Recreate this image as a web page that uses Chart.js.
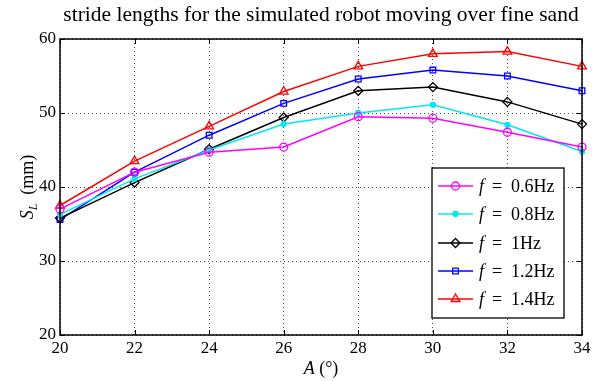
<!DOCTYPE html>
<html>
<head>
<meta charset="utf-8">
<script src="https://cdn.jsdelivr.net/npm/chart.js@4.4.1/dist/chart.umd.min.js"></script>
<style>
  html, body { margin: 0; padding: 0; background: #fff; }
  #wrap { width: 605px; height: 381px; }
</style>
</head>
<body>
<div id="wrap"><canvas id="c" width="605" height="381"></canvas></div>
<script>
// Amplitude A in degrees
const amplitudes = [20, 22, 24, 26, 28, 30, 32, 34];
// Stride length S_L (mm) for each gait frequency
const freqLabels = ['0.6', '0.8', '1', '1.2', '1.4'];
const sl06 = [37.0, 42.0, 44.7, 45.4, 49.5, 49.3, 47.4, 45.4];
const sl08 = [36.3, 41.1, 45.0, 48.5, 50.0, 51.1, 48.4, 44.8];
const sl10 = [35.8, 40.6, 45.1, 49.4, 53.0, 53.5, 51.5, 48.5];
const sl12 = [35.6, 42.0, 47.0, 51.3, 54.6, 55.8, 55.0, 53.0];
const sl14 = [37.5, 43.5, 48.2, 52.9, 56.3, 58.0, 58.3, 56.3];
const yTicks = [20, 30, 40, 50, 60];
const xTicks = [20, 22, 24, 26, 28, 30, 32, 34];
const titleText = 'stride lengths for the simulated robot moving over fine sand';

const SERIF = '"Liberation Serif", "DejaVu Serif", serif';

const styles = [
  { color: '#ff00ff', point: 'circle', radius: 4, fill: false },
  { color: '#00e8f0', point: 'circle', radius: 2.5, fill: true },
  { color: '#000000', point: 'rectRot', radius: 4.5, fill: false },
  { color: '#0000ff', point: 'rect', radius: 4, fill: false },
  { color: '#ff0000', point: 'triangle', radius: 5, fill: false }
];
const series = [sl06, sl08, sl10, sl12, sl14];

const datasets = series.map((vals, i) => ({
  label: 'f = ' + freqLabels[i] + 'Hz',
  data: vals.map((v, k) => ({ x: amplitudes[k], y: v })),
  borderColor: styles[i].color,
  backgroundColor: styles[i].fill ? styles[i].color : '#ffffff',
  pointBackgroundColor: styles[i].fill ? styles[i].color : 'rgba(0,0,0,0)',
  pointBorderColor: styles[i].color,
  pointStyle: styles[i].point,
  pointRadius: styles[i].radius,
  pointBorderWidth: 1.3,
  borderWidth: 1.5,
  tension: 0,
  clip: false
}));

// Frame, inward tick marks, title, axis titles and the legend box
const decorations = {
  id: 'decorations',
  afterDatasetsDraw(chart) {
    const ctx = chart.ctx;
    const a = chart.chartArea;
    const xs = chart.scales.x, ys = chart.scales.y;
    ctx.save();
    ctx.strokeStyle = '#000';
    ctx.lineWidth = 1.5;
    ctx.setLineDash([]);
    ctx.strokeRect(a.left, a.top, a.right - a.left, a.bottom - a.top);
    ctx.lineWidth = 1;
    const tl = 5;
    xTicks.forEach(t => {
      const px = Math.round(xs.getPixelForValue(t)) + 0.5;
      ctx.beginPath();
      ctx.moveTo(px, a.bottom); ctx.lineTo(px, a.bottom - tl);
      ctx.moveTo(px, a.top); ctx.lineTo(px, a.top + tl);
      ctx.stroke();
    });
    yTicks.forEach(t => {
      const py = Math.round(ys.getPixelForValue(t)) + 0.5;
      ctx.beginPath();
      ctx.moveTo(a.left, py); ctx.lineTo(a.left + tl, py);
      ctx.moveTo(a.right, py); ctx.lineTo(a.right - tl, py);
      ctx.stroke();
    });

    // title
    ctx.fillStyle = '#000';
    ctx.font = '21.5px ' + SERIF;
    ctx.textAlign = 'center';
    ctx.textBaseline = 'alphabetic';
    ctx.fillText(titleText, (a.left + a.right) / 2, 21);

    // x axis title: A (°)
    const cx = (a.left + a.right) / 2;
    ctx.font = 'italic 18px ' + SERIF;
    const wA = ctx.measureText('A').width;
    ctx.font = '18px ' + SERIF;
    const wRest = ctx.measureText(' (°)').width;
    let x0 = cx - (wA + wRest) / 2;
    ctx.textAlign = 'left';
    ctx.font = 'italic 18px ' + SERIF;
    ctx.fillText('A', x0, 374);
    ctx.font = '18px ' + SERIF;
    ctx.fillText(' (°)', x0 + wA, 374);

    // y axis title: S_L (mm), rotated
    ctx.save();
    ctx.translate(33, (a.top + a.bottom) / 2);
    ctx.rotate(-Math.PI / 2);
    ctx.font = 'italic 18px ' + SERIF;
    const wS = ctx.measureText('S').width;
    ctx.font = 'italic 12px ' + SERIF;
    const wL = ctx.measureText('L').width;
    ctx.font = '18px ' + SERIF;
    const wMm = ctx.measureText('  (mm)').width;
    let y0 = -(wS + wL + wMm) / 2;
    ctx.textAlign = 'left';
    ctx.font = 'italic 18px ' + SERIF;
    ctx.fillText('S', y0, 0);
    ctx.font = 'italic 12px ' + SERIF;
    ctx.fillText('L', y0 + wS, 4);
    ctx.font = '18px ' + SERIF;
    ctx.fillText('  (mm)', y0 + wS + wL, 0);
    ctx.restore();

    // legend
    const lx = 432, ly = 168, lw = 132, lh = 150;
    ctx.fillStyle = '#fff';
    ctx.fillRect(lx, ly, lw, lh);
    ctx.strokeStyle = '#000';
    ctx.lineWidth = 1.3;
    ctx.strokeRect(lx, ly, lw, lh);
    const rowY = [186, 214, 243, 271, 299];
    chart.data.datasets.forEach((ds, i) => {
      const y = rowY[i];
      ctx.strokeStyle = ds.borderColor;
      ctx.lineWidth = 1.5;
      ctx.beginPath();
      ctx.moveTo(438, y); ctx.lineTo(473, y);
      ctx.stroke();
      ctx.fillStyle = ds.pointBackgroundColor;
      ctx.strokeStyle = ds.pointBorderColor;
      ctx.lineWidth = 1.3;
      Chart.helpers.drawPoint(ctx, {
        pointStyle: ds.pointStyle, radius: ds.pointRadius, rotation: 0, borderWidth: 1.3
      }, 455.5, y);
      ctx.fillStyle = '#000';
      ctx.textBaseline = 'middle';
      ctx.textAlign = 'left';
      ctx.font = 'italic 18px ' + SERIF;
      ctx.fillText('f', 479, y + 1);
      ctx.font = '18px ' + SERIF;
      ctx.fillText('=', 492, y + 1);
      ctx.fillText(freqLabels[i] + 'Hz', 511, y + 1);
    });
    ctx.restore();
  }
};

new Chart(document.getElementById('c'), {
  type: 'line',
  data: { datasets },
  options: {
    responsive: false,
    animation: false,
    devicePixelRatio: 1,
    layout: { padding: { top: 39, right: 23, left: 0, bottom: 0 } },
    plugins: { legend: { display: false }, title: { display: false }, tooltip: { enabled: false } },
    scales: {
      x: {
        type: 'linear',
        min: 20, max: 34,
        afterBuildTicks: s => { s.ticks = xTicks.map(v => ({ value: v })); },
        afterFit: s => { s.height = 46; },
        ticks: { color: '#000', font: { family: SERIF, size: 17 }, padding: 3, maxRotation: 0 },
        grid: { color: 'rgba(0,0,0,0.7)', lineWidth: 1, drawTicks: false },
        border: { display: false, dash: [1, 3] }
      },
      y: {
        type: 'linear',
        min: 20, max: 60,
        afterBuildTicks: s => { s.ticks = yTicks.map(v => ({ value: v })); },
        afterFit: s => { s.width = 60; },
        ticks: { color: '#000', font: { family: SERIF, size: 17 }, padding: 4 },
        grid: { color: 'rgba(0,0,0,0.7)', lineWidth: 1, drawTicks: false },
        border: { display: false, dash: [1, 3] }
      }
    }
  },
  plugins: [decorations]
});
</script>
</body>
</html>
